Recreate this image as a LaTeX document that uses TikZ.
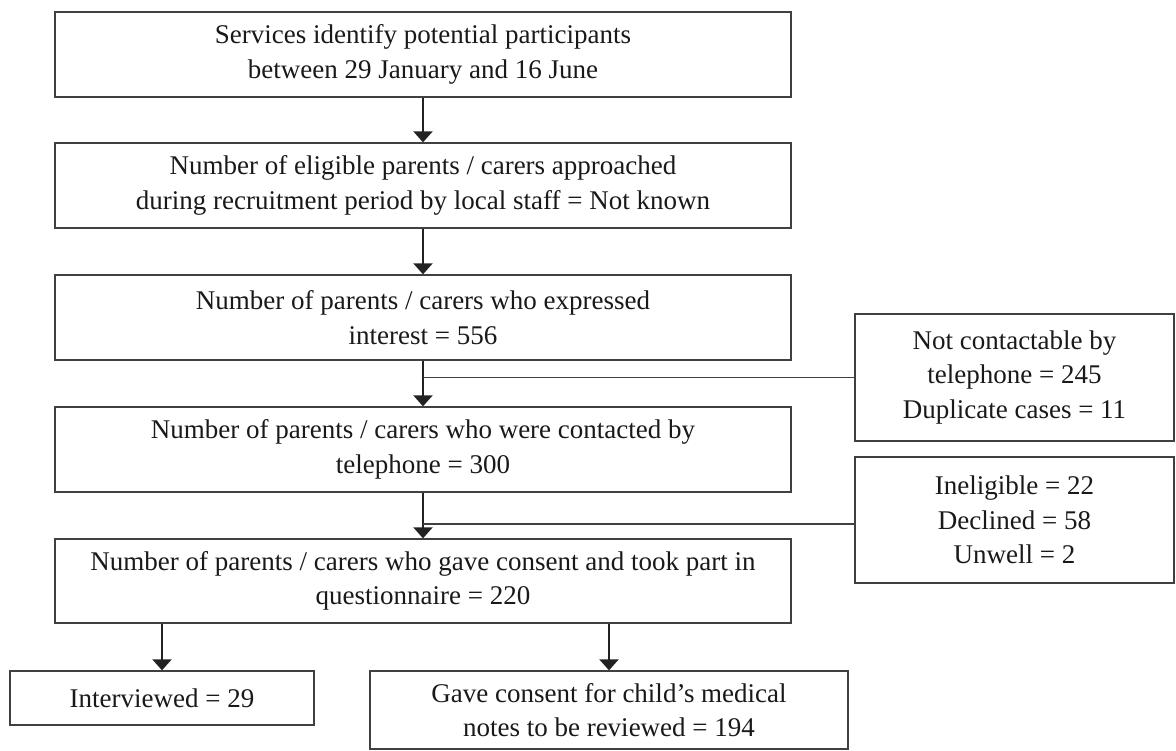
\documentclass[tikz,border=0pt]{standalone}
\usepackage{fontspec}
\setmainfont{Liberation Serif}
\usetikzlibrary{arrows.meta}
\definecolor{boxline}{HTML}{404040}
\definecolor{arrline}{HTML}{222222}
\begin{document}
\begin{tikzpicture}[x=1pt,y=-1pt,
  box/.style={draw=boxline, line width=1.3pt, inner sep=0pt, align=center,
    text=black!90, font=\fontsize{27}{34.5}\selectfont},
  arr/.style={draw=arrline, line width=2.2pt, -{Triangle[width=19pt,length=11pt]}},
  branch/.style={draw=boxline, line width=1.3pt}]
\useasboundingbox (0,0) rectangle (1176,751);
\node[box, minimum width=736pt, minimum height=85pt] (b1) at (423,54.5)
  {Services identify potential participants\\between 29 January and 16 June};
\node[box, minimum width=736pt, minimum height=85pt] (b2) at (423,185.5)
  {Number of eligible parents / carers approached\\during recruitment period by local staff = Not known};
\node[box, minimum width=736pt, minimum height=85pt] (b3) at (423,317.5)
  {Number of parents / carers who expressed\\interest = 556};
\node[box, minimum width=736pt, minimum height=85pt] (b4) at (423,449.5)
  {Number of parents / carers who were contacted by\\telephone = 300};
\node[box, minimum width=736pt, minimum height=84pt] (b5) at (423,581)
  {Number of parents / carers who gave consent and took part in\\questionnaire = 220};
\node[box, minimum width=319pt, minimum height=127pt] (s1) at (1014.5,377.5)
  {Not contactable by\\telephone = 245\\Duplicate cases = 11};
\node[box, minimum width=319pt, minimum height=126pt] (s2) at (1014.5,520)
  {Ineligible = 22\\Declined = 58\\Unwell = 2};
\node[box, minimum width=304pt, minimum height=54pt] (iv) at (162,698)
  {Interviewed = 29};
\node[box, minimum width=478pt, minimum height=78pt] (cs) at (609,710)
  {Gave consent for child’s medical\\notes to be reviewed = 194};
\draw[arr] (b1.south) -- (b2.north);
\draw[arr] (b2.south) -- (b3.north);
\draw[arr] (b3.south) -- (b4.north);
\draw[arr] (b4.south) -- (b5.north);
\draw[branch] (s1.west) -- (s1.west -| b3.south);
\draw[branch] ([yshift=-4pt]s2.west) -- ([yshift=-4pt]s2.west -| b4.south);
\draw[arr] (b5.south -| iv.north) -- (iv.north);
\draw[arr] (b5.south -| cs.north) -- (cs.north);
\end{tikzpicture}
\end{document}
